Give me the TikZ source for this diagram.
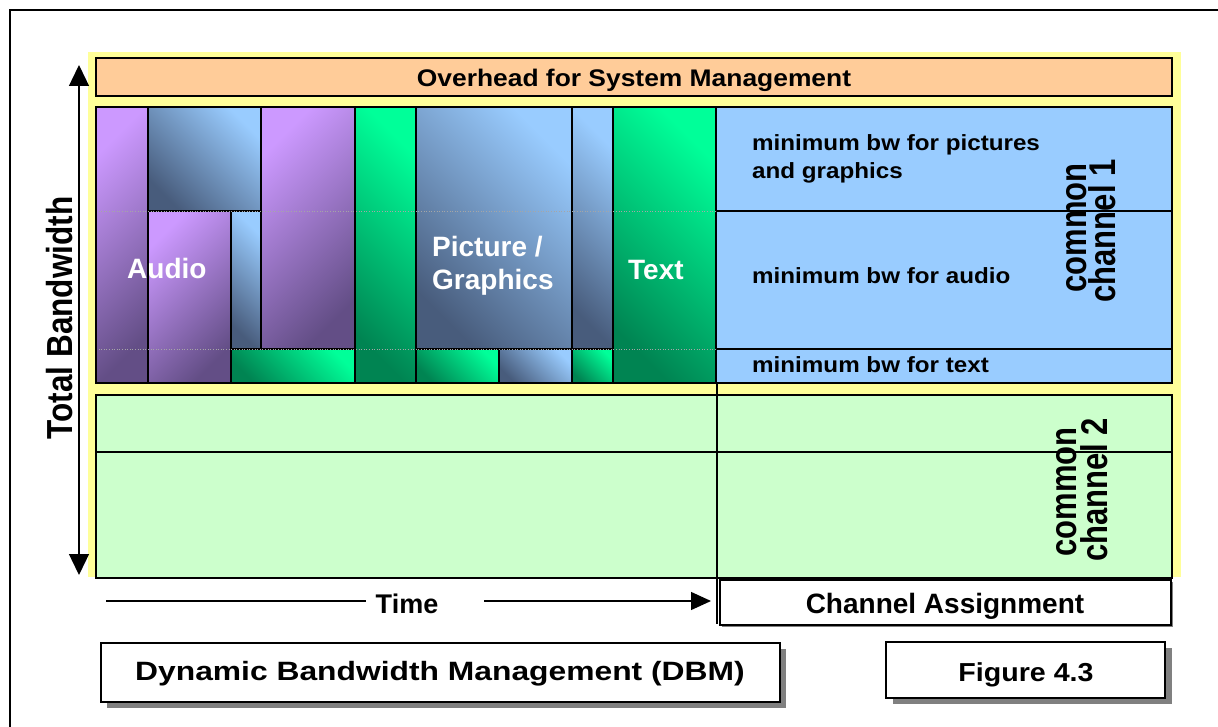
\documentclass[tikz,border=0pt]{standalone}
\usepackage{fontspec}
\setmainfont{Liberation Sans}
\usetikzlibrary{arrows.meta}
\definecolor{ybg}{HTML}{FFFF99}
\definecolor{obox}{HTML}{FFCC99}
\definecolor{bch}{HTML}{99CCFF}
\definecolor{gch}{HTML}{CCFFCC}
\definecolor{purL}{HTML}{CC99FF}
\definecolor{purD}{HTML}{634E86}
\definecolor{bluL}{HTML}{99CCFF}
\definecolor{bluD}{HTML}{485C7C}
\definecolor{grnL}{HTML}{00FF99}
\definecolor{grnD}{HTML}{008452}
\definecolor{shad}{HTML}{808080}
\newcommand\fsz[1]{\fontsize{#1}{#1}\selectfont\bfseries}
\newcommand\hstr[2]{\scalebox{#1}[1]{#2}}
\newcommand\vstr[2]{\scalebox{1}[#1]{#2}}
\begin{document}
\begin{tikzpicture}[x=1pt,y=-1pt,
  blk/.style={draw=black,line width=1.4},
  pur/.style={blk,top color=purL,bottom color=purD,shading angle=45},
  blu/.style={blk,top color=bluL,bottom color=bluD,shading angle=-45},
  grn/.style={blk,top color=grnL,bottom color=grnD,shading angle=-45},
  cell/.style={draw=black,fill=bch,line width=1.4},
  lblw/.style={inner sep=0,anchor=base west},
  lblc/.style={inner sep=0,anchor=base},
  rot/.style={inner sep=0,rotate=90},
  shadowbox/.style={draw=black,fill=white,line width=2},
]
\useasboundingbox (0,0) rectangle (1218,727);
% outer frame
\draw[line width=1.5] (10,727) -- (10,10) -- (1218,10);
% yellow background
\fill[ybg] (88,52) rectangle (1181,577);
% overhead
\draw[fill=obox,line width=2] (96,58) rectangle (1172,96);
\node[lblc,font=\fsz{24}] (ovh) at (634,87) {\hstr{1.1}{Overhead for System Management}};
% channel 1 right cells
\path[cell] (716,107) rectangle (1172,211);
\path[cell] (716,211) rectangle (1172,349);
\path[cell] (716,349) rectangle (1172,383);
% dynamic blocks
\path[pur] (96,107) rectangle (148,383);
\path[blu] (148,107) rectangle (261,211);
\path[pur] (148,211) rectangle (231,383);
\path[blu] (231,211) rectangle (261,349);
\path[pur] (261,107) rectangle (355,349);
\path[grn] (231,349) rectangle (355,383);
\path[grn] (355,107) rectangle (416,383);
\path[blu] (416,107) rectangle (572,349);
\path[blu] (572,107) rectangle (613,349);
\path[grn] (416,349) rectangle (499,383);
\path[blu] (499,349) rectangle (572,383);
\path[grn] (572,349) rectangle (613,383);
\path[grn] (613,107) rectangle (716,383);
\draw[black!35,dotted,line width=0.6] (96,211) -- (716,211) (96,349) -- (716,349);
\draw[line width=2] (96,107) rectangle (1172,383);
% block labels
\node[lblw,font=\fsz{28},white] (audio) at (127,279) {Audio};
\node[lblw,font=\fsz{28},white] (pic1) at (432,257) {Picture /};
\node[lblw,font=\fsz{28},white] (pic2) at (432,290) {Graphics};
\node[lblw,font=\fsz{28},white] (txt) at (628,280) {Text};
% minimum bw labels
\node[lblw,font=\fsz{22}] (mp1) at (752,151) {\hstr{1.1}{minimum bw for pictures}};
\node[lblw,font=\fsz{22}] (mp2) at (752,179) {\hstr{1.1}{and graphics}};
\node[lblw,font=\fsz{22}] (ma) at (752,284) {\hstr{1.1}{minimum bw for audio}};
\node[lblw,font=\fsz{22}] (mt) at (752,372) {\hstr{1.1}{minimum bw for text}};
\node[rot,font=\fsz{31}] (c1a) at (1077,228) {\vstr{1.2}{common}};
\node[rot,font=\fsz{31}] (c1b) at (1102,231) {\vstr{1.2}{channel 1}};
% channel 2
\draw[fill=gch,line width=2] (96,395) rectangle (1172,578);
\draw[line width=1.5] (96,452) -- (1172,452);
\node[rot,font=\fsz{31}] (c2a) at (1067,492) {\vstr{1.2}{common}};
\node[rot,font=\fsz{31}] (c2b) at (1094,490) {\vstr{1.2}{channel 2}};
% channel assignment
\fill[shad] (722,582) rectangle (1173,627);
\draw[fill=white,line width=1.2] (720,580) rectangle (1171,625);
\node[lblc,font=\fsz{28}] (chas) at (945,613) {Channel Assignment};
\draw[line width=2] (717,383) -- (717,624);
% total bandwidth axis
\coordinate (bwtop) at (79,65);
\coordinate (bwbot) at (79,575);
\draw[line width=1.3,{Triangle[length=21pt,width=20pt]}-{Triangle[length=21pt,width=20pt]}] (bwtop) -- (bwbot);
\node[rot,font=\fsz{31.5}] (tbw) at (60,318) {\vstr{1.15}{Total Bandwidth}};
% time axis
\node[lblc,font=\fsz{27},inner xsep=10,inner ysep=0] (time) at (407,613) {Time};
\coordinate (t0) at (106,601);
\coordinate (t1) at (484,601);
\coordinate (t2) at (711,601);
\draw[line width=1.3] (t0) -- (t0 -| time.west);
\draw[line width=1.3,-{Triangle[length=20pt,width=18pt]}] (t1) -- (t2);
% bottom titles
\fill[shad] (107,649) rectangle (786,708);
\path[shadowbox] (101,643) rectangle (780,702);
\node[lblw,font=\fsz{26.5}] (dbm) at (135,680) {\hstr{1.2}{Dynamic Bandwidth Management (DBM)}};
\fill[shad] (893,648) rectangle (1172,704);
\path[shadowbox] (886,642) rectangle (1165,698);
\node[lblc,font=\fsz{26}] (fig) at (1026,681) {\hstr{1.1}{Figure 4.3}};
\end{tikzpicture}
\end{document}
